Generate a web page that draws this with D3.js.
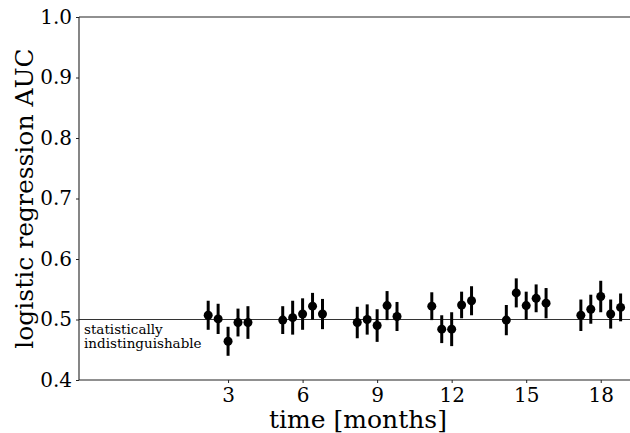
<!DOCTYPE html>
<html>
<head>
<meta charset="utf-8">
<script src="https://cdn.jsdelivr.net/npm/d3@7"></script>
<style>
  html, body { margin: 0; padding: 0; background: #fff; }
  svg { display: block; font-family: "DejaVu Serif", serif; }
</style>
</head>
<body>
<svg id="chart" width="630" height="433"></svg>
<script>
// ---- data ----
const months = [2.2, 2.6, 3.0, 3.4, 3.8,
                5.2, 5.6, 6.0, 6.4, 6.8,
                8.2, 8.6, 9.0, 9.4, 9.8,
                11.2, 11.6, 12.0, 12.4, 12.8,
                14.2, 14.6, 15.0, 15.4, 15.8,
                17.2, 17.6, 18.0, 18.4, 18.8];
const auc = [0.507, 0.501, 0.464, 0.495, 0.495,
             0.499, 0.503, 0.509, 0.522, 0.509,
             0.495, 0.500, 0.490, 0.523, 0.505,
             0.522, 0.484, 0.484, 0.524, 0.531,
             0.499, 0.544, 0.523, 0.535, 0.527,
             0.507, 0.517, 0.538, 0.509, 0.520];
const aucErr = [0.024, 0.025, 0.024, 0.023, 0.027,
                0.023, 0.028, 0.026, 0.022, 0.025,
                0.026, 0.025, 0.027, 0.024, 0.024,
                0.023, 0.023, 0.028, 0.022, 0.024,
                0.025, 0.024, 0.023, 0.023, 0.025,
                0.026, 0.024, 0.026, 0.024, 0.023];
const xTicks = [3, 6, 9, 12, 15, 18];
const yTicks = [0.4, 0.5, 0.6, 0.7, 0.8, 0.9, 1.0];
const chanceLevel = 0.5;
const chanceText = ["statistically", "indistinguishable"];
const xLabel = "time [months]";
const yLabel = "logistic regression AUC";

// ---- layout ----
const mL = 79, mR = 638, mT = 17, mB = 380;
const svg = d3.select("#chart");

const x = d3.scaleLinear().domain([-3, 19.5]).range([mL, mR]);
const y = d3.scaleLinear().domain([0.4, 1.0]).range([mB, mT]);

const data = months.map((m, i) => ({ m, v: auc[i], e: aucErr[i] }));

// chance line
svg.append("line")
  .attr("x1", mL).attr("x2", mR)
  .attr("y1", y(chanceLevel)).attr("y2", y(chanceLevel))
  .attr("stroke", "#333").attr("stroke-width", 1.1);

svg.append("text")
  .attr("x", mL + 5).attr("y", y(chanceLevel) + 14)
  .attr("font-size", 13.5).attr("fill", "#000")
  .selectAll("tspan").data(chanceText).join("tspan")
  .attr("x", mL + 5)
  .attr("dy", (d, i) => i === 0 ? 0 : 14.5)
  .text(d => d);

// axes
const xAxis = d3.axisBottom(x).tickValues(xTicks).tickSize(3).tickPadding(5)
  .tickFormat(d3.format("d"));
const yAxis = d3.axisLeft(y).tickValues(yTicks).tickSize(3).tickPadding(4)
  .tickFormat(d3.format(".1f"));

const gx = svg.append("g").attr("transform", `translate(0,${mB})`).call(xAxis);
const gy = svg.append("g").attr("transform", `translate(${mL},0)`).call(yAxis);
[gx, gy].forEach(g => {
  g.select(".domain").remove();
  g.selectAll("line").attr("stroke", "#222");
  g.selectAll("text").attr("font-family", "DejaVu Serif").attr("font-size", 20).attr("fill", "#000");
});
gx.selectAll("text").attr("dy", "0.72em");

// spines
svg.append("line").attr("x1", mL).attr("x2", mR).attr("y1", mT).attr("y2", mT)
  .attr("stroke", "#222").attr("stroke-width", 1.1);
svg.append("line").attr("x1", mL).attr("x2", mR).attr("y1", mB).attr("y2", mB)
  .attr("stroke", "#222").attr("stroke-width", 1.1);
svg.append("line").attr("x1", mL).attr("x2", mL).attr("y1", mT).attr("y2", mB)
  .attr("stroke", "#222").attr("stroke-width", 1.1);

// error bars
svg.append("g").selectAll("line").data(data).join("line")
  .attr("x1", d => x(d.m)).attr("x2", d => x(d.m))
  .attr("y1", d => y(d.v - d.e)).attr("y2", d => y(d.v + d.e))
  .attr("stroke", "#000").attr("stroke-width", 3);

// points
svg.append("g").selectAll("circle").data(data).join("circle")
  .attr("cx", d => x(d.m)).attr("cy", d => y(d.v))
  .attr("r", 4.5).attr("fill", "#000");

// axis labels
svg.append("text")
  .attr("x", 358).attr("y", 428)
  .attr("text-anchor", "middle").attr("font-size", 25).attr("fill", "#000")
  .text(xLabel);

svg.append("text")
  .attr("transform", `translate(33,${(mT + mB) / 2}) rotate(-90)`)
  .attr("text-anchor", "middle").attr("font-size", 25).attr("fill", "#000")
  .text(yLabel);
</script>
</body>
</html>
